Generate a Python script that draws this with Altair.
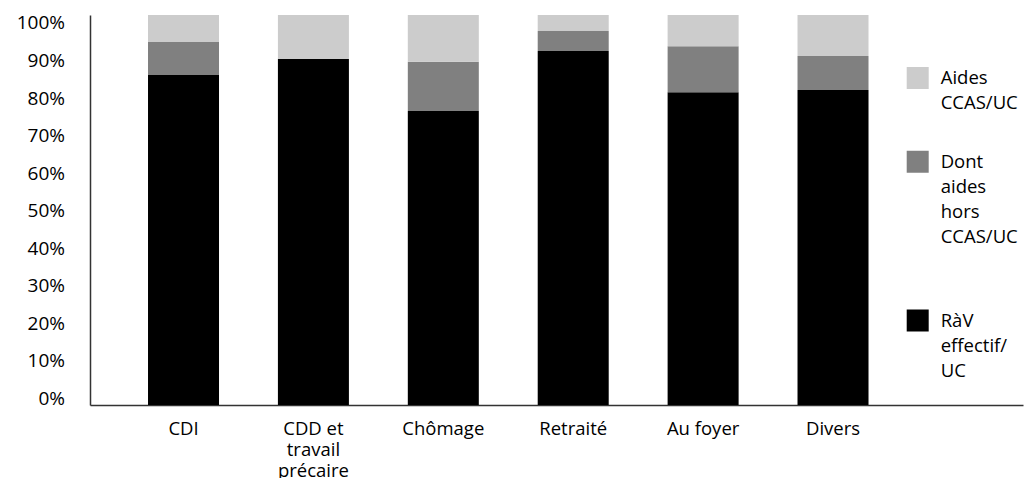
import altair as alt
import pandas as pd

FONT = "Open Sans"

# Occupational status categories (x axis)
categories = ["CDI", "CDD et travail précaire", "Chômage", "Retraité", "Au foyer", "Divers"]

# Share of each component, in % of the total per category
rav_effectif = [84.6, 88.7, 75.4, 90.8, 80.2, 80.8]
aides_hors_ccas = [8.5, 0.0, 12.6, 5.1, 11.8, 8.7]
aides_ccas = [6.9, 11.3, 12.0, 4.1, 8.0, 10.5]

# Series names (legend order, top to bottom) and their fills
series = ["Aides CCAS/UC", "Dont aides hors CCAS/UC", "RàV effectif/UC"]
colors = ["#cccccc", "#808080", "#000000"]

# Percent ticks of the value axis
y_ticks = [0, 10, 20, 30, 40, 50, 60, 70, 80, 90, 100]

rows = []
for i, cat in enumerate(categories):
    for rank, (name, vals) in enumerate(
        [(series[2], rav_effectif), (series[1], aides_hors_ccas), (series[0], aides_ccas)]
    ):
        rows.append({"categorie": cat, "serie": name, "valeur": vals[i], "rang": rank})
df = pd.DataFrame(rows)

x_label_expr = (
    "datum.label == 'CDD et travail précaire' ? ['CDD et', 'travail', 'précaire'] : datum.label"
)
legend_label_expr = (
    "datum.label == 'Aides CCAS/UC' ? ['Aides', 'CCAS/UC'] : "
    "datum.label == 'Dont aides hors CCAS/UC' ? ['Dont', 'aides', 'hors', 'CCAS/UC', ''] : "
    "['RàV', 'effectif/', 'UC']"
)

bars = alt.Chart(df).mark_bar().encode(
    x=alt.X(
        "categorie:N",
        sort=categories,
        scale=alt.Scale(paddingInner=0.4534, paddingOuter=0.8179, align=0.273),
        axis=alt.Axis(
            title=None,
            labelAngle=0,
            ticks=False,
            tickSize=0,
            labelPadding=14.5,
            labelFont=FONT,
            labelFontSize=18.5,
            labelColor="#000000",
            labelLineHeight=21,
            labelExpr=x_label_expr,
            domainColor="#333333",
            domainWidth=1.5,
            grid=False,
        ),
    ),
    y=alt.Y(
        "valeur:Q",
        stack="normalize",
        scale=alt.Scale(domain=[0, 1], nice=False),
        axis=None,
    ),
    color=alt.Color(
        "serie:N",
        scale=alt.Scale(domain=series, range=colors),
        legend=alt.Legend(
            title=None,
            orient="none",
            legendX=816.7,
            legendY=52,
            padding=0,
            symbolType="square",
            symbolSize=484,
            symbolStrokeWidth=0,
            symbolOpacity=1,
            labelFont=FONT,
            labelFontSize=18.5,
            labelColor="#000000",
            labelOffset=12,
            labelLimit=300,
            labelExpr=legend_label_expr,
            rowPadding=37.75,
        ),
    ),
    order=alt.Order("rang:Q", sort="ascending"),
)

# Percent axis drawn on its own scale
axis_layer = alt.Chart(pd.DataFrame({"tick": y_ticks})).mark_point(opacity=0).encode(
    y=alt.Y(
        "tick:Q",
        scale=alt.Scale(domain=[-1.79, 102.13], nice=False, zero=False),
        axis=alt.Axis(
            title=None,
            values=y_ticks,
            labelExpr="datum.value + '%'",
            ticks=False,
            tickSize=0,
            grid=False,
            labelPadding=25.5,
            labelFont=FONT,
            labelFontSize=19,
            labelColor="#000000",
            domainColor="#333333",
            domainWidth=1.5,
        ),
    ),
)

chart = (
    alt.layer(bars, axis_layer)
    .resolve_scale(y="independent")
    .properties(
        width=933,
        height=390,
        padding={"left": 90, "top": 15, "right": 5, "bottom": 73},
        autosize=alt.AutoSizeParams(type="none"),
        background="#ffffff",
    )
    .configure(style={"guide-label": {"lineHeight": 25}})
    .configure_view(stroke=None)
)

chart.save("out.html", embed_options={"renderer": "svg", "actions": False})
